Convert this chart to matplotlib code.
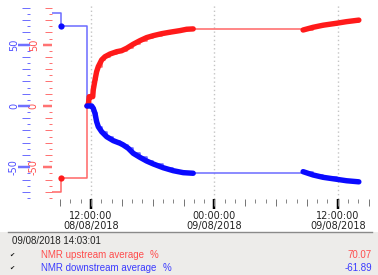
import matplotlib
matplotlib.use('Agg')
import matplotlib.pyplot as plt
import matplotlib.ticker as mticker
from matplotlib.patches import Rectangle
from matplotlib.lines import Line2D

# ---------------- data (time in hours since 08/08/2018 00:00) ----------------
up_pre_t = [8.00, 9.085]
up_pre_v = [-70.5, -59.0]
down_pre_t = [8.00, 9.085]
down_pre_v = [76.0, 65.0]

up_seg1_t = [11.62, 11.74, 11.83, 12.17, 12.22, 12.39, 12.55, 12.71, 13.04, 13.36, 13.85,
             14.50, 14.98, 15.47, 16.11, 16.76, 17.41, 18.06, 18.87, 19.68, 20.65, 21.30, 21.94]
up_seg1_v = [0.0, 0.8, 7.6, 7.6, 13.1, 21.2, 28.0, 32.1, 37.6, 40.2, 42.4,
             44.3, 45.1, 47.1, 50.4, 53.3, 55.8, 57.4, 59.0, 60.2, 61.5, 62.6, 62.9]
up_seg2_t = [32.63, 33.60, 34.57, 35.88, 36.85, 38.05]
up_seg2_v = [62.0, 64.2, 65.9, 67.5, 68.8, 70.07]

down_seg1_t = [11.61, 12.07, 12.22, 12.39, 12.55, 12.71, 13.04, 13.53, 14.17, 14.82, 15.14,
               15.62, 16.11, 16.76, 17.41, 18.06, 19.03, 20.00, 20.97, 21.94]
down_seg1_v = [0.0, 0.0, -1.9, -6.0, -12.8, -16.9, -21.0, -25.1, -28.3, -30.4, -31.8,
               -34.5, -38.6, -41.9, -44.9, -47.3, -50.4, -52.8, -54.4, -54.9]
down_seg2_t = [32.63, 33.60, 34.57, 35.88, 36.85, 38.05]
down_seg2_v = [-53.6, -56.3, -58.2, -59.8, -61.0, -61.89]

label_ticks = [12, 24, 36]
y_label_vals = [-50, 0, 50]
cursor_text = "09/08/2018 14:03:01"
series_names = ["NMR upstream average", "NMR downstream average"]
series_units = ["%", "%"]
series_last = ["70.07", "-61.89"]

# ---------------- style ----------------
RED = '#ff1a1a'
RED_L = '#ff6666'
RED_T = '#ff4d4d'
RED_K = '#ff7373'
BLUE = '#0a0aff'
BLUE_L = '#6b6bff'
BLUE_T = '#4d4dff'
BLUE_K = '#7070ff'
PX = 0.72  # points per pixel

W, H = 378, 275
fig = plt.figure(figsize=(W / 100, H / 100), dpi=100)
fig.patch.set_facecolor('white')


def rect(x0, y0, x1, y1):
    return [x0 / W, 1 - y1 / H, (x1 - x0) / W, (y1 - y0) / H]


XLIM = (8.21, 27.33 + 12)
YLIM = (-75.9, 82.4)

# axis holding the 12h labelled ticks and the grid (drawn underneath)
axg = fig.add_axes(rect(52, 5, 372, 199))
axg.set_xlim(*XLIM)
axg.set_ylim(*YLIM)
for s in axg.spines.values():
    s.set_visible(False)
axg.set_yticks([])
axg.set_xticks(label_ticks)


def fmt(h, pos=None):
    h = int(round(h))
    return f"{h % 24:02d}:00:00\n{8 + h // 24:02d}/08/2018"


axg.xaxis.set_major_formatter(mticker.FuncFormatter(fmt))
axg.tick_params(axis='x', length=10 * PX, width=2.5 * PX, color='black', pad=1.5,
                labelsize=7, labelcolor='#222222')
for lab in axg.get_xticklabels():
    lab.set_linespacing(0.95)
axg.grid(axis='x', linestyle=(0, (1, 2)), color='#c4c4c4', lw=1)
axg.set_zorder(0)

# main data axis
ax = fig.add_axes(rect(52, 5, 372, 199))
ax.patch.set_visible(False)
ax.set_zorder(1)
ax.set_xlim(*XLIM)
ax.set_ylim(*YLIM)
for s in ax.spines.values():
    s.set_visible(False)
ax.xaxis.set_major_locator(mticker.MultipleLocator(3))
ax.xaxis.set_minor_locator(mticker.MultipleLocator(1))
ax.xaxis.set_major_formatter(mticker.NullFormatter())
ax.tick_params(axis='x', which='major', length=7 * PX, width=PX, color='#777777')
ax.tick_params(axis='x', which='minor', length=4 * PX, width=PX, color='#888888')

ymajor = list(range(-70, 81, 10))
yminor = list(range(-75, 80, 10))


def yfmt(v, pos=None):
    v = int(round(v))
    return str(v) if v in y_label_vals else ''


def setup_y(a, color, tcolor, long_px, short_px, big_px, pad_pt):
    a.yaxis.set_major_locator(mticker.FixedLocator(ymajor))
    a.yaxis.set_minor_locator(mticker.FixedLocator(yminor))
    a.yaxis.set_major_formatter(mticker.FuncFormatter(yfmt))
    a.tick_params(axis='y', which='major', length=long_px * PX, width=PX, color=tcolor,
                  labelcolor=color, labelsize=7, pad=pad_pt, labelrotation=90)
    a.tick_params(axis='y', which='minor', length=short_px * PX, width=PX, color=tcolor)
    for lab in a.get_yticklabels():
        lab.set_va('center')
    for loc, t in zip(a.yaxis.get_majorticklocs(), a.yaxis.get_major_ticks()):
        if int(round(loc)) in y_label_vals:
            t.tick1line.set_markersize(big_px * PX)
            t.tick1line.set_markeredgewidth(2.5 * PX)
            t.tick1line.set_color(color)


setup_y(ax, RED_T, RED_K, 7, 3, 9, 4.5)

# blue axis (outward)
axb = ax.twinx()
axb.set_ylim(*YLIM)
axb.yaxis.tick_left()
for s in axb.spines.values():
    s.set_visible(False)
axb.spines['left'].set_position(('outward', 22 * PX))
setup_y(axb, BLUE_T, BLUE_K, 8, 3, 12, 2.2)
axb.set_zorder(2)

# ---------------- series ----------------
up_all_t = up_pre_t + up_seg1_t + up_seg2_t
up_all_v = up_pre_v + up_seg1_v + up_seg2_v
down_all_t = down_pre_t + down_seg1_t + down_seg2_t
down_all_v = down_pre_v + down_seg1_v + down_seg2_v

ax.step(down_all_t, down_all_v, where='post', color=BLUE_L, lw=1.1)
ax.step(up_all_t, up_all_v, where='post', color=RED_L, lw=1.1)
ax.plot(down_pre_t[1:], down_pre_v[1:], 'o', color=BLUE, ms=4.5, mew=0)
ax.plot(up_pre_t[1:], up_pre_v[1:], 'o', color=RED, ms=4.5, mew=0)
for tt, vv, c in [(up_seg1_t, up_seg1_v, RED), (up_seg2_t, up_seg2_v, RED),
                  (down_seg1_t, down_seg1_v, BLUE), (down_seg2_t, down_seg2_v, BLUE)]:
    ax.plot(tt, vv, '-', color=c, lw=3.9, solid_capstyle='round', solid_joinstyle='round')

# ---------------- bottom panel ----------------
fig.patches.append(Rectangle((0, 0), 1, 1 - 232 / H, transform=fig.transFigure,
                             facecolor='#edecea', edgecolor='none', zorder=-5))
fig.lines.append(Line2D([8 / W, 372 / W], [1 - 232 / H] * 2, transform=fig.transFigure,
                        color='#8a8a8a', lw=1))


def ftext(x, y, s, **kw):
    fig.text(x / W, 1 - y / H, s, va='center', **kw)


LS = ['Liberation Sans', 'DejaVu Sans']
ftext(12, 241, cursor_text, family=LS, fontsize=7, color='#222222')
rows_y = [255, 268]
cols = [RED_T, '#3b3bff']
unit_x = [150, 163]
for y, name, unit, last, c, ux in zip(rows_y, series_names, series_units, series_last, cols, unit_x):
    ftext(9, y, '\u2714', family=['DejaVu Sans'], fontsize=4.5, color='#111111')
    ftext(41, y, name, family=LS, fontsize=7, color=c)
    ftext(ux, y, unit, family=LS, fontsize=7, color=c)
    ftext(372, y, last, family=LS, fontsize=7, color=c, ha='right')

fig.savefig('out.png', dpi=100)
